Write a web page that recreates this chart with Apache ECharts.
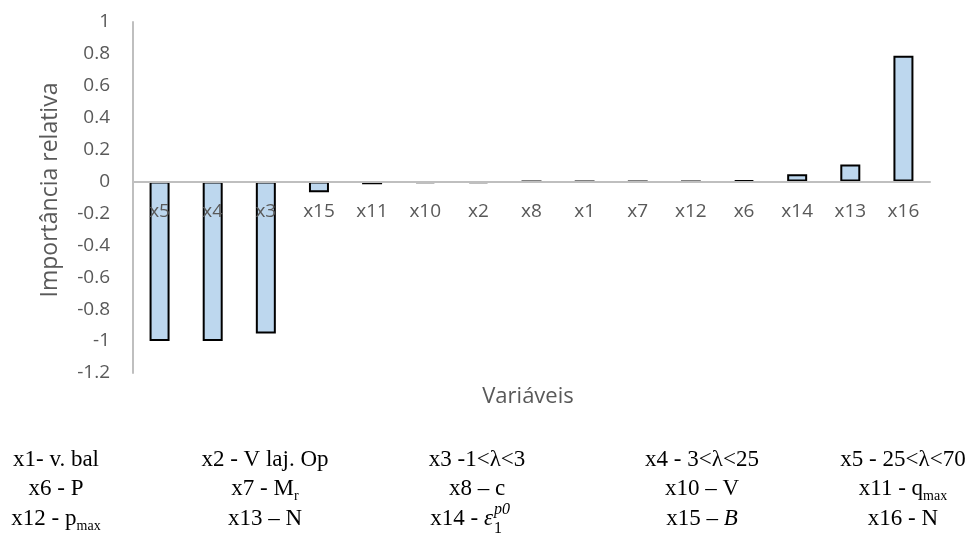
<!DOCTYPE html>
<html><head><meta charset="utf-8">
<script src="https://cdn.jsdelivr.net/npm/echarts@6/dist/echarts.min.js"></script>
<style>html,body{margin:0;padding:0;background:#fff}#c{width:969px;height:536px}</style>
</head><body><div id="c"></div>
<script>
// Data
const categories = ['x5','x4','x3','x15','x11','x10','x2','x8','x1','x7','x12','x6','x14','x13','x16'];
const importance = [-1.0,-1.0,-0.952,-0.067,-0.017,-0.01,-0.01,0,0.001,0.001,0.001,0.008,0.045,0.107,0.788];
const yMin = -1.2, yMax = 1, yStep = 0.2;
const yTitle = 'Importância relativa';
const xTitle = 'Variáveis';
// Legend of variables (rich text: {s|..} subscript, {i|..} italic)
const legendRow1 = ['x1- v. bal', 'x2 - V laj. Op', 'x3 -1<λ<3', 'x4 - 3<λ<25', 'x5 - 25<λ<70'];
const legendRow2 = ['x6 - P', 'x7 - M{s|r}', 'x8 – c', 'x10 – V', 'x11 - q{s|max}'];
const legendRow3 = ['x12 - p{s|max}', 'x13 – N', 'x14 - {i|ε}', 'x15 – {i|B}', 'x16 - N'];

const colX = [56, 265, 477, 702, 903];
const rowY = [460, 489, 519];
const serif = '"Liberation Serif", "Times New Roman", serif';
const sans = '"Open Sans", sans-serif';
const rich = {
  s: {fontSize: 14, fontFamily: serif, verticalAlign: 'bottom', lineHeight: 16, fill: '#000'},
  i: {fontSize: 23, fontFamily: serif, fontStyle: 'italic', fill: '#000'}
};
const graphics = [];
[legendRow1, legendRow2, legendRow3].forEach((row, r) => {
  row.forEach((t, c) => {
    let x = colX[c], align = 'center';
    if (r === 2 && c === 2) { x = 493; align = 'right'; }
    graphics.push({type: 'text', x: x, y: rowY[r], style: {
      text: t, fontSize: 23, fontFamily: serif, fill: '#000',
      align: align, verticalAlign: 'middle', lineHeight: 28, rich: rich}});
  });
});
// super/subscript of epsilon
graphics.push({type: 'text', x: 494, y: 510, style: {text: 'p0', fontSize: 16, fontStyle: 'italic', fontFamily: serif, fill: '#000', align: 'left', verticalAlign: 'middle'}});
graphics.push({type: 'text', x: 494, y: 529, style: {text: '1', fontSize: 16, fontFamily: serif, fill: '#000', align: 'left', verticalAlign: 'middle'}});
// axis titles
graphics.push({type: 'text', x: 528, y: 397, style: {text: xTitle, fontSize: 22, fontFamily: sans, fill: '#595959', align: 'center', verticalAlign: 'middle'}});
graphics.push({type: 'text', x: 50, y: 190, rotation: Math.PI / 2, style: {text: yTitle, fontSize: 23, fontFamily: sans, fill: '#595959', align: 'center', verticalAlign: 'middle'}});

const chart = echarts.init(document.getElementById('c'), null, {renderer: 'canvas'});
const gridTop = 22, gridBottom = 163, plotH = 536 - gridTop - gridBottom;
// place the category axis on the value 0 line
const zeroOffset = -plotH * (0 - yMin) / (yMax - yMin);
chart.setOption({
  animation: false,
  backgroundColor: '#fff',
  grid: {left: 133, right: 39, top: gridTop, bottom: gridBottom, containLabel: false},
  xAxis: {
    type: 'category', data: categories, z: 5, position: 'bottom', offset: zeroOffset,
    axisLine: {onZero: false, lineStyle: {color: '#BFBFBF', width: 2}},
    axisTick: {show: false},
    axisLabel: {color: '#595959', fontSize: 19, fontFamily: sans, margin: 21, interval: 0}
  },
  yAxis: {
    type: 'value', min: yMin, max: yMax, interval: yStep,
    axisLine: {show: true, lineStyle: {color: '#BFBFBF', width: 2}},
    axisTick: {show: false},
    splitLine: {show: false},
    axisLabel: {color: '#595959', fontSize: 19, fontFamily: sans, margin: 23,
      formatter: v => String(Math.round(v * 10) / 10)}
  },
  series: [{
    type: 'bar', data: importance, barWidth: 20,
    itemStyle: {color: '#BDD7EE', borderColor: '#000', borderWidth: 2}
  }],
  graphic: graphics
});
</script></body></html>
